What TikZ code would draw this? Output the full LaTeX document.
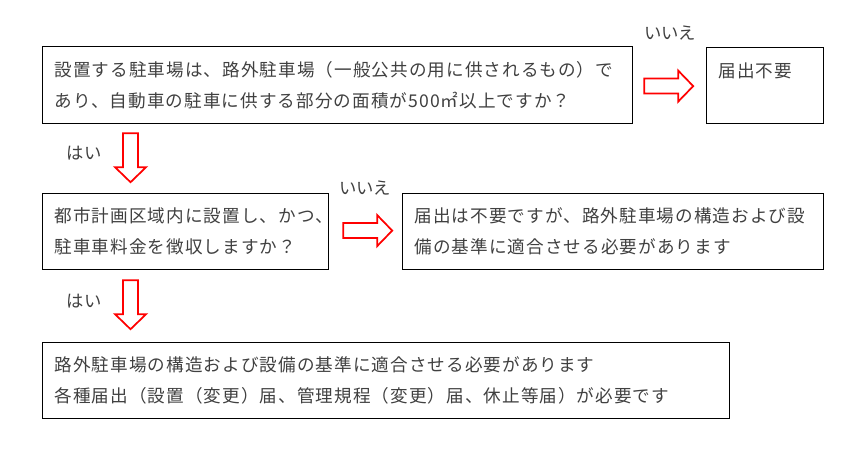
\documentclass[tikz,border=0pt]{standalone}
\usepackage{fontspec}
\setmainfont{Noto Sans CJK JP}

\definecolor{arrowred}{RGB}{255,0,0}
\definecolor{textgray}{RGB}{64,64,64}

\tikzset{
  box/.style={draw=black, line width=0.9pt, anchor=north west, align=left,
    inner xsep=9pt, inner ysep=0pt, text=textgray,
    font=\fontsize{13.2pt}{23.25pt}\selectfont\addfontfeatures{LetterSpace=6}},
  answer/.style={text=textgray, inner sep=0pt,
    font=\fontsize{13pt}{15pt}\selectfont},
  blockarrow/.style={draw=arrowred, line width=1.3pt, fill=white, line join=miter}
}

\begin{document}
\begin{tikzpicture}[x=0.75pt,y=-0.75pt]
  \useasboundingbox (0,0) rectangle (859,455);
  % question boxes
  \node[box, minimum width=442.5pt, minimum height=57.75pt, text width=424.5pt] (q1) at (42,46)
    {設置する駐車場は、路外駐車場（一般公共の用に供されるもの）で\\あり、自動車の駐車に供する部分の面積が500㎡以上ですか？};
  \node[box, minimum width=87.75pt, minimum height=57pt, text width=69.75pt] (r1) at (706,47)
    {届出不要\\\mbox{}};
  \node[box, minimum width=214.5pt, minimum height=57pt, text width=196.5pt] (q2) at (42,193)
    {都市計画区域内に設置し、かつ、\\駐車車料金を徴収しますか？};
  \node[box, minimum width=315.75pt, minimum height=57pt, text width=297.75pt] (r2) at (402,193)
    {届出は不要ですが、路外駐車場の構造および設\\備の基準に適合させる必要があります};
  \node[box, minimum width=515.25pt, minimum height=57pt, text width=497.25pt] (r3) at (42,342)
    {路外駐車場の構造および設備の基準に適合させる必要があります\\各種届出（設置（変更）届、管理規程（変更）届、休止等届）が必要です};
  % answers
  \node[answer] (no1) at (670,33) {いいえ};
  \node[answer] (no2) at (365,188) {いいえ};
  \node[answer] (yes1) at (84,153) {はい};
  \node[answer] (yes2) at (84,301) {はい};
  % block arrows
  \coordinate (a1) at ([xshift=8.25pt,yshift=-0.75pt]q1.east);
  \coordinate (a2) at ([xshift=10.5pt,yshift=0.75pt]q2.east);
  \coordinate (d1) at ([xshift=66.4pt,yshift=-6.75pt]q1.south west);
  \coordinate (d2) at ([xshift=66.4pt,yshift=-7.5pt]q2.south west);
  \draw[blockarrow] (a1) ++(0,-7.5) -- ++(34,0) -- ++(0,-8) -- ++(15,15.5) -- ++(-15,15.5) -- ++(0,-8) -- ++(-34,0) -- cycle;
  \draw[blockarrow] (a2) ++(0,-7.5) -- ++(34,0) -- ++(0,-8) -- ++(15,15.5) -- ++(-15,15.5) -- ++(0,-8) -- ++(-34,0) -- cycle;
  \draw[blockarrow] (d1) ++(-7.5,0) -- ++(0,34) -- ++(-8,0) -- ++(15.5,15) -- ++(15.5,-15) -- ++(-8,0) -- ++(0,-34) -- cycle;
  \draw[blockarrow] (d2) ++(-7.5,0) -- ++(0,34) -- ++(-8,0) -- ++(15.5,15) -- ++(15.5,-15) -- ++(-8,0) -- ++(0,-34) -- cycle;
\end{tikzpicture}
\end{document}
